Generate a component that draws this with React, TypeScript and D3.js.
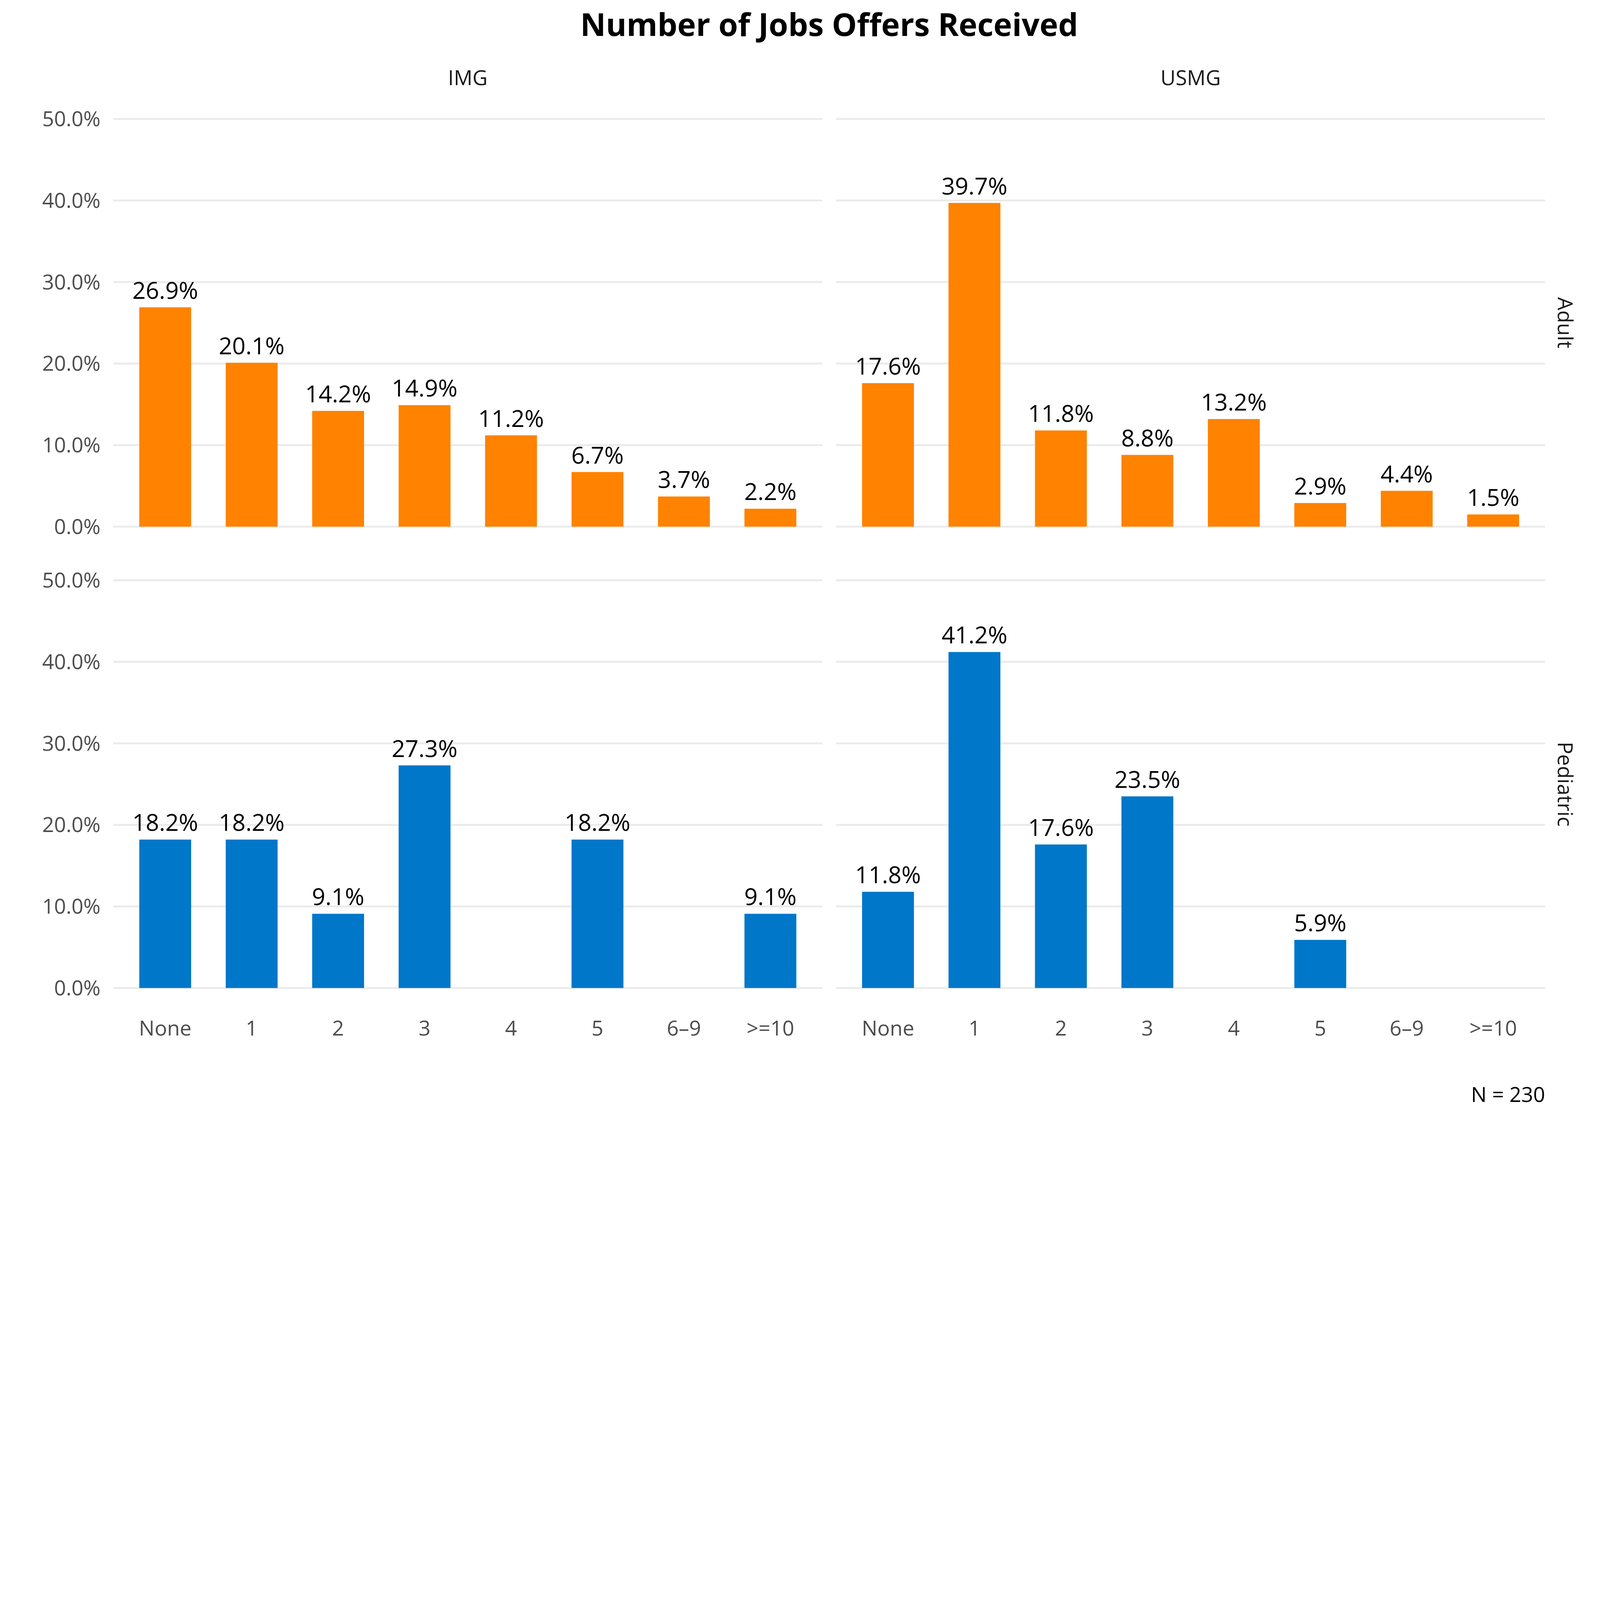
import { useEffect, useRef } from "react";
import * as d3 from "d3";

const categories = ["None", "1", "2", "3", "4", "5", "6–9", ">=10"];
const columns = ["IMG", "USMG"];
const rows = ["Adult", "Pediatric"];
const yTicks = [0, 0.1, 0.2, 0.3, 0.4, 0.5];

// null = no bar for that category
const adultIMG = [26.9, 20.1, 14.2, 14.9, 11.2, 6.7, 3.7, 2.2];
const adultUSMG = [17.6, 39.7, 11.8, 8.8, 13.2, 2.9, 4.4, 1.5];
const pedIMG = [18.2, 18.2, 9.1, 27.3, null, 18.2, null, 9.1];
const pedUSMG = [11.8, 41.2, 17.6, 23.5, null, 5.9, null, null];

const rowColors = ["#FF8200", "#0077C8"];
const panelValues = [
  [adultIMG, adultUSMG],
  [pedIMG, pedUSMG],
];

const W = 6000;
const H = 4200;
const FONT = "'Segoe UI', 'Open Sans', 'Noto Sans', sans-serif";

export default function App() {
  const ref = useRef<SVGSVGElement>(null);

  useEffect(() => {
    document.body.style.margin = "0";
    const svg = d3.select(ref.current);
    svg.selectAll("*").remove();

    // plot area (panels) in pixels
    const left = 425;
    const right = 5794;
    const gapX = 52;
    const panelW = (right - left - gapX) / 2;
    const panelTops = [446, 2176];
    const panelH = 1529;

    svg.append("rect").attr("width", W).attr("height", H).attr("fill", "#fff");
    const g = svg.append("g").attr("font-family", FONT);

    // Title
    g.append("text")
      .text("Number of Jobs Offers Received")
      .attr("x", (left + right) / 2)
      .attr("y", 135)
      .attr("text-anchor", "middle")
      .attr("font-size", 118)
      .attr("font-weight", "bold")
      .attr("fill", "#000");

    rows.forEach((rowName, ri) => {
      const top = panelTops[ri];
      const y = d3.scaleLinear().domain([0, 0.5]).range([top + panelH, top]);

      columns.forEach((colName, ci) => {
        const x0 = left + ci * (panelW + gapX);
        const x = d3
          .scaleBand()
          .domain(categories)
          .range([x0, x0 + panelW])
          .paddingInner(0.4)
          .paddingOuter(0.3);

        const panel = g.append("g");

        // gridlines
        panel
          .selectAll("line.grid")
          .data(yTicks)
          .join("line")
          .attr("x1", x0)
          .attr("x2", x0 + panelW)
          .attr("y1", (d) => y(d))
          .attr("y2", (d) => y(d))
          .attr("stroke", "#EBEBEB")
          .attr("stroke-width", 7.5);

        // y tick labels only on first column
        if (ci === 0) {
          panel
            .selectAll("text.ytick")
            .data(yTicks)
            .join("text")
            .text((d) => d3.format(".1%")(d))
            .attr("x", 377)
            .attr("y", (d) => y(d))
            .attr("dy", "0.35em")
            .attr("text-anchor", "end")
            .attr("font-size", 78)
            .attr("fill", "#4D4D4D");
        }

        const vals = panelValues[ri][ci];
        const data = categories
          .map((c, i) => ({ c, v: vals[i] }))
          .filter((d) => d.v !== null) as { c: string; v: number }[];

        panel
          .selectAll("rect")
          .data(data)
          .join("rect")
          .attr("x", (d) => x(d.c)!)
          .attr("width", x.bandwidth())
          .attr("y", (d) => y(d.v / 100))
          .attr("height", (d) => y(0) - y(d.v / 100))
          .attr("fill", rowColors[ri]);

        panel
          .selectAll("text.lab")
          .data(data)
          .join("text")
          .text((d) => d.v.toFixed(1) + "%")
          .attr("x", (d) => x(d.c)! + x.bandwidth() / 2)
          .attr("y", (d) => y(d.v / 100) - 32)
          .attr("text-anchor", "middle")
          .attr("font-size", 88)
          .attr("fill", "#000");

        // column strip labels
        if (ri === 0) {
          g.append("text")
            .text(colName)
            .attr("x", x0 + panelW / 2)
            .attr("y", 320)
            .attr("text-anchor", "middle")
            .attr("font-size", 78)
            .attr("fill", "#1A1A1A");
        }

        // x axis labels under bottom row
        if (ri === rows.length - 1) {
          panel
            .selectAll("text.xtick")
            .data(categories)
            .join("text")
            .text((d) => d)
            .attr("x", (d) => x(d)! + x.bandwidth() / 2)
            .attr("y", 3884)
            .attr("text-anchor", "middle")
            .attr("font-size", 78)
            .attr("fill", "#4D4D4D");
        }
      });

      // row strip labels
      g.append("text")
        .text(rowName)
        .attr("transform", `translate(5842, ${top + panelH / 2}) rotate(90)`)
        .attr("text-anchor", "middle")
        .attr("font-size", 78)
        .attr("fill", "#1A1A1A");
    });

    // caption
    g.append("text")
      .text("N = 230")
      .attr("x", right)
      .attr("y", 4132)
      .attr("text-anchor", "end")
      .attr("font-size", 78)
      .attr("fill", "#000");
  }, []);

  return (
    <svg
      ref={ref}
      viewBox={`0 0 ${W} ${H}`}
      preserveAspectRatio="xMinYMin meet"
      style={{ display: "block", width: "100vw", height: "auto" }}
    />
  );
}
